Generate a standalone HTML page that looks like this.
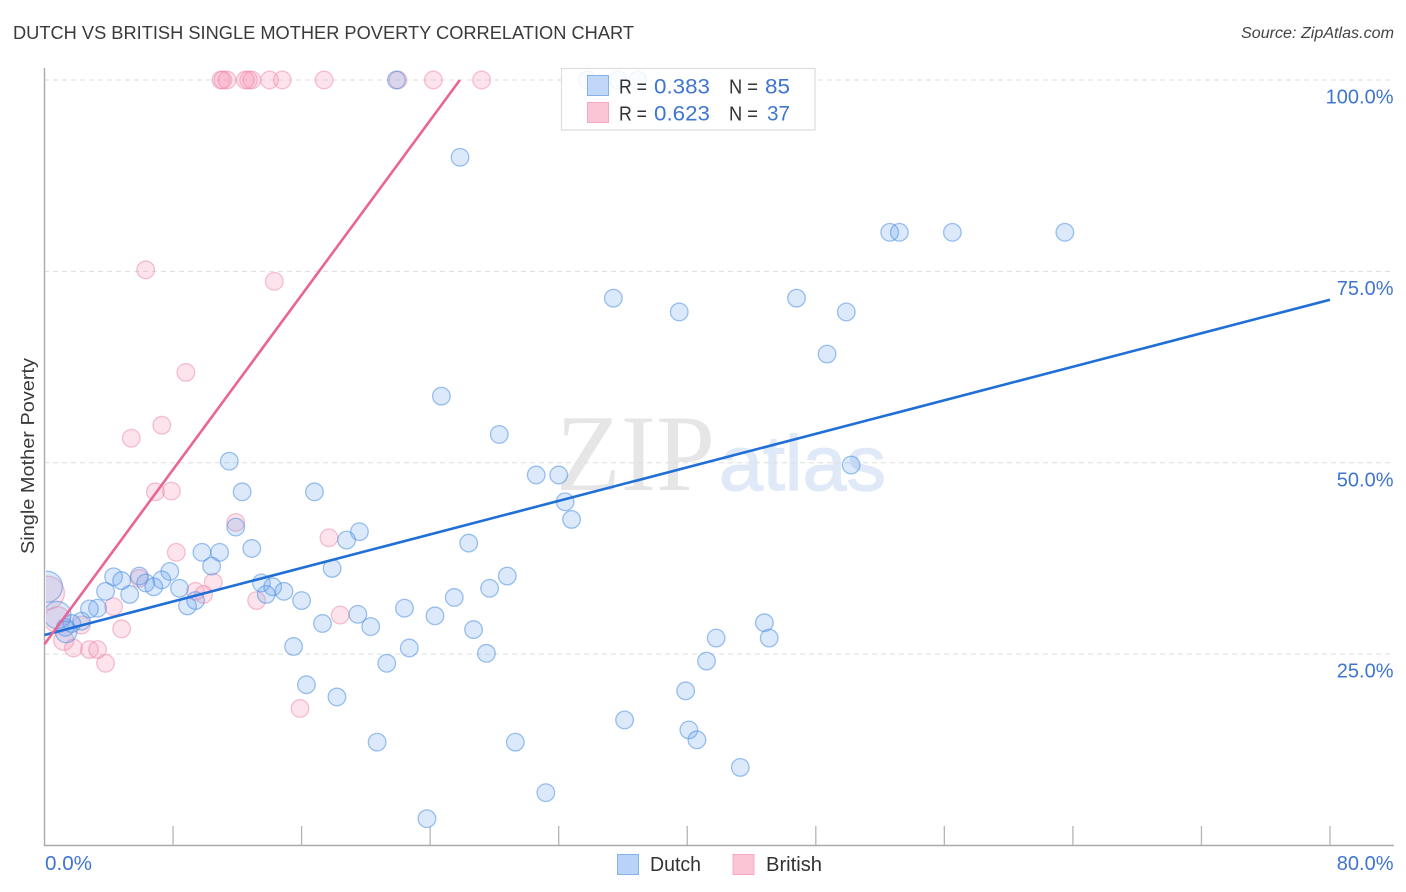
<!DOCTYPE html>
<html lang="en">
<head>
<meta charset="utf-8">
<title>Dutch vs British Single Mother Poverty Correlation Chart</title>
<style>
html,body{margin:0;padding:0;background:#fff;}
svg{display:block;font-family:"Liberation Sans",sans-serif;}
</style>
</head>
<body>
<svg id="chart" xmlns="http://www.w3.org/2000/svg" width="1406" height="892" viewBox="0 0 1406 892">
  <defs><clipPath id="plot-clip"><rect x="46" y="60" width="1300" height="785"/></clipPath></defs>
  <text x="13" y="39" font-size="18.5" fill="#3a3a3a" textLength="621" lengthAdjust="spacingAndGlyphs">DUTCH VS BRITISH SINGLE MOTHER POVERTY CORRELATION CHART</text>
  <text x="1241" y="38" font-size="15.5" font-style="italic" fill="#444" textLength="153" lengthAdjust="spacingAndGlyphs">Source: ZipAtlas.com</text>
  <text x="556" y="490" style="font-family:'Liberation Serif',serif" font-size="109" fill="#e6e6e6" textLength="159" lengthAdjust="spacingAndGlyphs">ZIP</text>
  <text x="719" y="490" style="font-family:'Liberation Sans',sans-serif" font-size="78" fill="#dfe9f8" stroke="#dfe9f8" stroke-width="1.2" textLength="167" lengthAdjust="spacingAndGlyphs">atlas</text>
  <g id="grid"></g>
  <g id="points" clip-path="url(#plot-clip)"></g>
  <rect x="0" y="540" width="44.5" height="130" fill="#fff"/>
  <g id="axes"></g>
  <g id="trends"></g>
  <text transform="translate(34,456) rotate(-90)" font-size="18.5" fill="#3a3a3a" text-anchor="middle" textLength="196" lengthAdjust="spacingAndGlyphs">Single Mother Poverty</text>
  <g>
    <rect x="561.5" y="68.5" width="253.5" height="61.5" fill="#fff" fill-opacity="0.86" stroke="#dcdcdc" stroke-width="1.2"/>
    <rect x="587.5" y="75.5" width="21" height="20" fill="#b9d3f8" fill-opacity="0.9" stroke="#86b2ea"/>
    <rect x="587.5" y="102.5" width="21" height="20" fill="#fcc5d6" stroke="#f4a9c0"/>
    <g font-size="20" fill="#333">
      <text x="619" y="93.5" textLength="28" lengthAdjust="spacingAndGlyphs">R =</text>
      <text x="729" y="93.5" textLength="29" lengthAdjust="spacingAndGlyphs">N =</text>
      <text x="619" y="120.5" textLength="28" lengthAdjust="spacingAndGlyphs">R =</text>
      <text x="729" y="120.5" textLength="29" lengthAdjust="spacingAndGlyphs">N =</text>
    </g>
    <g font-size="21" fill="#3f75d1">
      <text x="654" y="93.5" textLength="56" lengthAdjust="spacingAndGlyphs">0.383</text>
      <text x="765" y="93.5" textLength="25" lengthAdjust="spacingAndGlyphs">85</text>
      <text x="654" y="120.5" textLength="56" lengthAdjust="spacingAndGlyphs">0.623</text>
      <text x="767" y="120.5" textLength="23" lengthAdjust="spacingAndGlyphs">37</text>
    </g>
  </g>
  <g>
    <rect x="617.5" y="854.5" width="21" height="20" fill="#b9d3f8" stroke="#86b2ea"/>
    <text x="650" y="871" font-size="20" fill="#333" textLength="51" lengthAdjust="spacingAndGlyphs">Dutch</text>
    <rect x="733" y="854.5" width="21" height="20" fill="#fcc5d6" stroke="#f4a9c0"/>
    <text x="766" y="871" font-size="20" fill="#333" textLength="56" lengthAdjust="spacingAndGlyphs">British</text>
  </g>
</svg>
<script>
const dutchX = [25.86,52.6,53.2,56.5,63.5,35.4,46.8,39.5,49.9,48.7,24.7,28.3,11.5,50.2,30.6,32.0,12.3,16.8,32.4,32.8,11.9,19.6,18.8,26.4,12.9,9.8,10.9,10.4,17.9,7.8,28.8,5.9,4.3,4.8,7.3,6.3,6.8,13.5,14.2,8.4,27.7,3.8,14.9,13.8,5.3,25.5,16.0,9.4,8.9,22.4,3.3,2.8,19.5,24.3,17.3,20.3,44.8,26.7,2.3,1.7,1.3,41.8,45.1,15.5,22.7,27.5,41.2,21.3,16.3,39.9,18.2,36.1,40.1,40.6,20.7,29.3,43.3,31.2,23.8,21.9,33.8,35.7,36.9,0.15,0.8,1.35];
const dutchY = [89.9,80.1,80.1,80.1,80.1,71.5,71.5,69.7,69.7,64.2,58.7,53.7,50.2,49.7,48.4,48.4,46.2,46.2,44.9,42.6,41.6,41.0,39.9,39.5,38.8,38.3,38.3,36.5,36.2,35.8,35.2,35.2,35.1,34.6,34.7,34.3,33.8,34.3,33.8,33.6,33.6,33.2,33.2,32.8,32.8,32.4,32.0,32.0,31.3,31.0,31.0,30.9,30.2,30.0,29.0,28.6,29.1,28.2,29.3,29.0,28.5,27.1,27.1,26.0,25.8,25.1,24.1,23.8,21.0,20.2,19.4,16.4,15.1,13.8,13.5,13.5,10.2,6.9,3.5,100,100,100,100,33.8,30.1,27.9];
const dutchSize = [1,1,1,1,1,1,1,1,1,1,1,1,1,1,1,1,1,1,1,1,1,1,1,1,1,1,1,1,1,1,1,1,1,1,1,1,1,1,1,1,1,1,1,1,1,1,1,1,1,1,1,1,1,1,1,1,1,1,1,1,1,1,1,1,1,1,1,1,1,1,1,1,1,1,1,1,1,1,1,1,1,1,1,3.1,2.4,1.5];
const britishX = [10.98,11.1,11.36,12.5,12.7,12.9,14.0,14.8,17.4,22.0,24.2,27.2,6.3,14.3,8.8,7.3,5.4,6.9,7.9,11.9,17.7,8.2,5.9,10.5,9.4,9.9,13.2,18.4,4.3,4.8,2.3,2.8,3.3,1.8,3.8,15.9,0.2,0.8,1.2];
const britishY = [100,100,100,100,100,100,100,100,100,100,100,100,75.2,73.7,61.8,54.9,53.2,46.2,46.3,42.2,40.2,38.3,34.9,34.4,33.2,32.8,32.0,30.1,31.2,28.3,28.8,25.6,25.6,25.8,23.8,17.9,33.0,29.5,26.8];
const britishSize = [1,1,1,1,1,1,1,1,1,1,1,1,1,1,1,1,1,1,1,1,1,1,1,1,1,1,1,1,1,1,1,1,1,1,1,1,3.6,2.2,1.3];
const dutchTrendX = [0,80];
const dutchTrendY = [27.5,71.3];
const britishTrendX = [0,25.85];
const britishTrendY = [26.3,100];
const xMinorTicks = [0,8,16,24,32,40,48,56,64,72,80];
const yGridTicks = [25,50,75,100];
const yTickLabels = ["25.0%","50.0%","75.0%","100.0%"];
const xTickLabels = ["0.0%","80.0%"];

const NS = 'http://www.w3.org/2000/svg';
function xScale(v){ return 44.5 + v * (1330 - 44.5) / 80; }
function yScale(v){ return 845.5 - v * (845.5 - 80) / 100; }
function radius(s){ return 8.8 * Math.sqrt(s); }
function mk(tag, parent, attrs){
  const el = document.createElementNS(NS, tag);
  for (const k in attrs) el.setAttribute(k, attrs[k]);
  parent.appendChild(el);
  return el;
}
const grid = document.getElementById('grid');
const axes = document.getElementById('axes');
const points = document.getElementById('points');
const trends = document.getElementById('trends');

yGridTicks.forEach(function(t, i){
  const line = mk('line', grid, {x1:44, x2:1394, y1:yScale(t), y2:yScale(t), stroke:'#dedede', 'stroke-width':1, 'stroke-dasharray':'5 4'});
  
  
  const label = mk('text', axes, {x:1393.5, y:yScale(t) + 23.5, 'text-anchor':'end', 'font-size':20, fill:'#3f75d1'});
  
  
  label.textContent = yTickLabels[i];
});

const yAxis = mk('line', axes, {x1:44.5, x2:44.5, y1:68, y2:846, stroke:'#aaa', 'stroke-width':1.4});


const xAxis = mk('line', axes, {x1:44, x2:1394, y1:845.5, y2:845.5, stroke:'#aaa', 'stroke-width':1.4});



xMinorTicks.slice(1).forEach(function(t){
  const tick = mk('line', axes, {x1:xScale(t), x2:xScale(t), y1:826, y2:845, stroke:'#b5b5b5', 'stroke-width':1.3});
  
  
});

const xLabelLeft = mk('text', axes, {x:45, y:870, 'font-size':20, fill:'#3f75d1', textLength:47, lengthAdjust:'spacingAndGlyphs'});


xLabelLeft.textContent = xTickLabels[0];
const xLabelRight = mk('text', axes, {x:1393.5, y:870, 'font-size':20, fill:'#3f75d1', 'text-anchor':'end'});


xLabelRight.textContent = xTickLabels[1];

britishX.forEach(function(v, i){
  const c = mk('circle', points, {cx:xScale(v), cy:yScale(britishY[i]), r:radius(britishSize[i]), fill:'#f58fb0', 'fill-opacity':0.24, stroke:'#ee86a8', 'stroke-opacity':0.5, 'stroke-width':1.3});
  
  
});
dutchX.forEach(function(v, i){
  const c = mk('circle', points, {cx:xScale(v), cy:yScale(dutchY[i]), r:radius(dutchSize[i]), fill:'#6fa6ee', 'fill-opacity':0.25, stroke:'#4f8fe0', 'stroke-opacity':0.55, 'stroke-width':1.3});
  
  
});

const dutchLine = mk('line', trends, {x1:xScale(dutchTrendX[0]), y1:yScale(dutchTrendY[0]), x2:xScale(dutchTrendX[1]), y2:yScale(dutchTrendY[1]), stroke:'#1f6fd6', 'stroke-width':2.6});


const britishLine = mk('line', trends, {x1:xScale(britishTrendX[0]), y1:yScale(britishTrendY[0]), x2:xScale(britishTrendX[1]), y2:yScale(britishTrendY[1]), stroke:'#ea6496', 'stroke-width':2.6});


</script>
</body>
</html>
